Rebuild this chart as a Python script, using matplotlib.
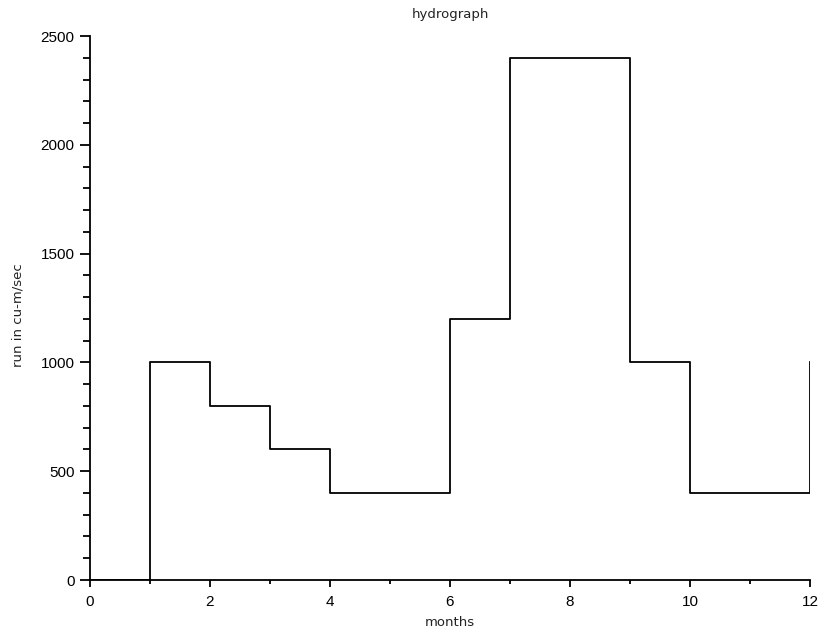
import matplotlib
matplotlib.use('Agg')
import matplotlib.pyplot as plt
from matplotlib.ticker import MultipleLocator

plt.rcParams['font.family'] = ['Liberation Sans', 'DejaVu Sans']

months = [0, 1, 2, 3, 4, 5, 6, 7, 8, 9, 10, 11, 12]
runoff = [0, 1000, 800, 600, 400, 400, 1200, 2400, 2400, 1000, 400, 400, 1000]

fig = plt.figure(figsize=(8.24, 6.36), dpi=100)
ax = fig.add_axes([90/824, 56/636, 720/824, 544/636])

ax.step(months, runoff, where='post', color='black', lw=1.3)

ax.set_xlim(0, 12)
ax.set_ylim(0, 2500)
ax.spines['top'].set_visible(False)
ax.spines['right'].set_visible(False)
for s in ('left', 'bottom'):
    ax.spines[s].set_linewidth(1.3)

ax.xaxis.set_major_locator(MultipleLocator(2))
ax.xaxis.set_minor_locator(MultipleLocator(1))
ax.yaxis.set_major_locator(MultipleLocator(500))
ax.yaxis.set_minor_locator(MultipleLocator(100))
ax.tick_params(which='both', width=1.3, direction='out', labelsize=11)
ax.tick_params(axis='x', which='major', length=5, pad=6)
ax.tick_params(axis='x', which='minor', length=3)
ax.tick_params(axis='y', which='major', length=7, pad=4)
ax.tick_params(axis='y', which='minor', length=5)

lab = dict(family='DejaVu Sans', fontsize=9.5, color='#222222')
ax.set_xlabel('months', labelpad=5, **lab)
ax.set_ylabel('run in cu-m/sec', labelpad=12, y=0.487, **lab)
ax.set_title('hydrograph', pad=13, **lab)

fig.savefig('out.png', dpi=100)
